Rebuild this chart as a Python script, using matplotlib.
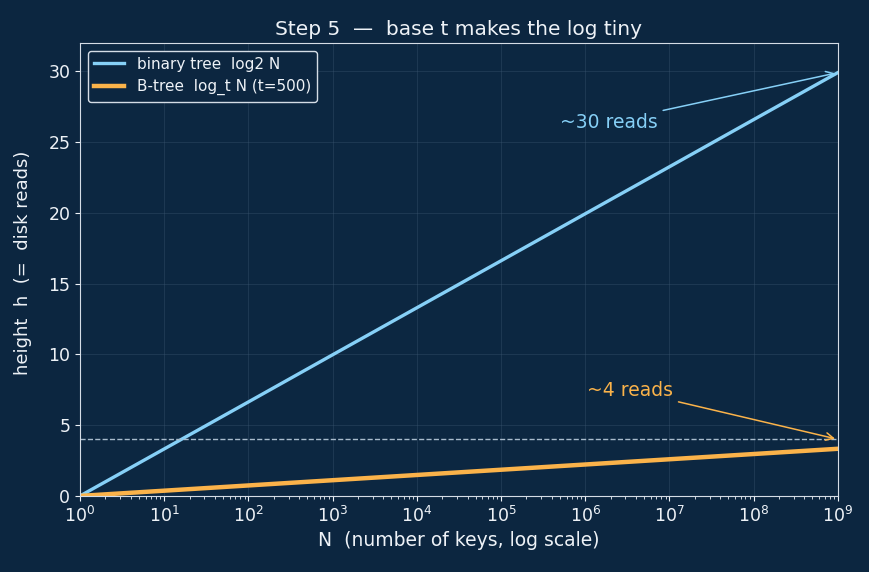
import matplotlib
matplotlib.use("Agg")
import matplotlib.pyplot as plt

# keys N (powers of ten) and tree heights
n_keys = [1e0, 1e1, 1e2, 1e3, 1e4, 1e5, 1e6, 1e7, 1e8, 1e9]
h_binary = [0.0, 3.32, 6.64, 9.97, 13.29, 16.61, 19.93, 23.25, 26.58, 29.90]
h_btree = [0.0, 0.37, 0.74, 1.11, 1.48, 1.85, 2.22, 2.59, 2.96, 3.33]
reads_line = 4

BG = "#0c2640"
AX_BG = "#0c2741"
FG = "#eef2f7"
BLUE = "#86d0f7"
ORANGE = "#fbb34a"

fig, ax = plt.subplots(figsize=(8.7, 5.72), dpi=100)
fig.patch.set_facecolor(BG)
ax.set_facecolor(AX_BG)

ax.plot(n_keys, h_binary, color=BLUE, lw=2.4, label="binary tree  log2 N")
ax.plot(n_keys, h_btree, color=ORANGE, lw=3.2, label="B-tree  log_t N (t=500)")
ax.axhline(reads_line, color="#a9bccd", lw=1.0, ls="--")

ax.set_xscale("log")
ax.set_xlim(1, 1e9)
ax.set_ylim(0, 32)
ax.set_xticks([10.0 ** k for k in range(10)])

ax.annotate("~30 reads", xy=(1e9, h_binary[-1]), xytext=(5e5, 26.4),
            color=BLUE, fontsize=13.5, va="center",
            arrowprops=dict(arrowstyle="->", color=BLUE, lw=1.1))
ax.annotate("~4 reads", xy=(1e9, reads_line), xytext=(1.05e6, 7.45),
            color=ORANGE, fontsize=13.5, va="center",
            arrowprops=dict(arrowstyle="->", color=ORANGE, lw=1.1))

ax.set_title("Step 5  —  base t makes the log tiny", color=FG, fontsize=14.5)
ax.set_xlabel("N  (number of keys, log scale)", color=FG, fontsize=13.5)
ax.set_ylabel("height  h  (=  disk reads)", color=FG, fontsize=13)
ax.yaxis.set_label_coords(-0.064, 0.515)

ax.grid(True, color="#3a5670", lw=0.6, alpha=0.45)
ax.tick_params(colors=FG, labelsize=12.5, which="both")
for sp in ax.spines.values():
    sp.set_color("#d5dde6")

leg = ax.legend(loc="upper left", fontsize=11, facecolor=BG, edgecolor="#d5dde6",
                framealpha=1.0)
for t in leg.get_texts():
    t.set_color(FG)

fig.subplots_adjust(left=0.092, right=0.963, top=0.925, bottom=0.133)
fig.savefig("out.png", facecolor=BG)
